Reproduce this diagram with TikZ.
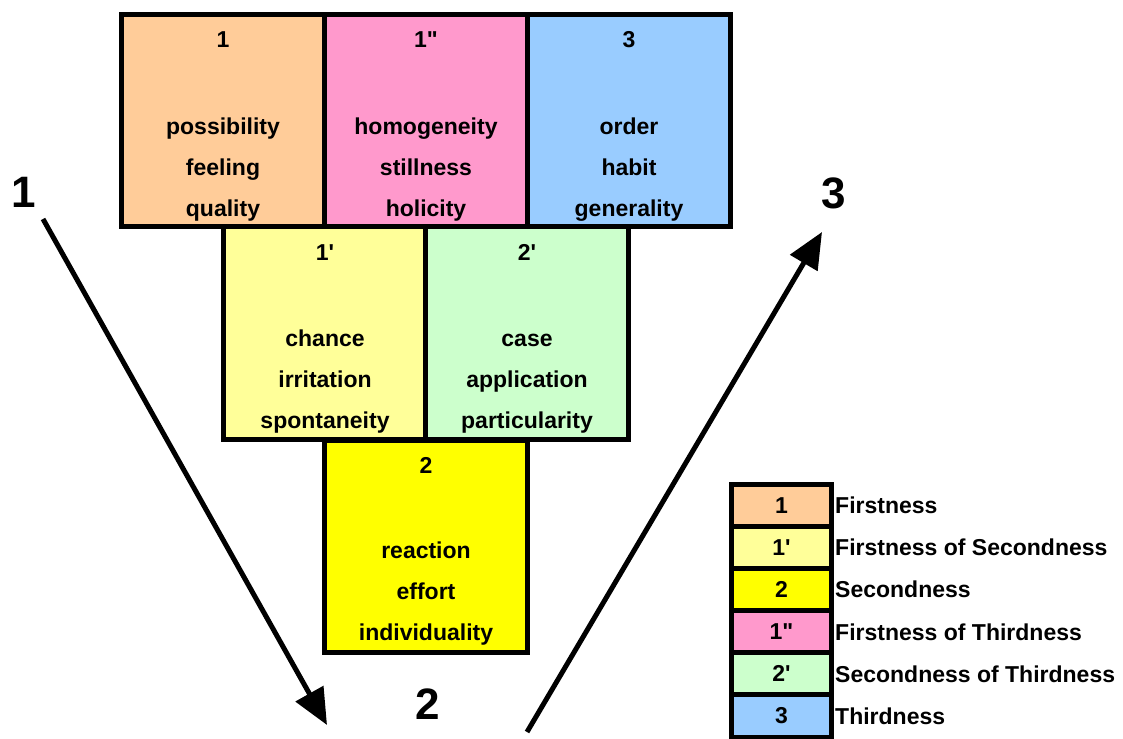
\documentclass[tikz,border=0pt]{standalone}
\usepackage{fontspec}
\setmainfont{Liberation Sans}
\usetikzlibrary{arrows.meta,positioning}
\definecolor{peach}{HTML}{FFCC99}
\definecolor{rose}{HTML}{FF99CC}
\definecolor{sky}{HTML}{99CCFF}
\definecolor{paleyellow}{HTML}{FFFF99}
\definecolor{palegreen}{HTML}{CCFFCC}
\definecolor{brightyellow}{HTML}{FFFF00}

\begin{document}
\begin{tikzpicture}
     [
     x=1pt, y=-1pt,
     cellbox/.style={rectangle, draw=black, line width=5pt, minimum width=203pt, minimum height=212.5pt, inner sep=0pt},
     numtext/.style={font=\fontsize{23}{27}\selectfont\bfseries, text height=16.5pt, text depth=0pt, inner sep=0pt},
     wordtext/.style={align=center, font=\fontsize{23}{41}\selectfont\bfseries, text height=17pt, text depth=5pt, inner sep=0pt},
     keybox/.style={rectangle, draw=black, line width=5pt, minimum width=100pt, minimum height=42.1pt, inner sep=0pt, font=\fontsize{23}{27}\selectfont\bfseries},
     keytext/.style={anchor=west, inner sep=1pt, font=\fontsize{23}{27}\selectfont\bfseries},
     bignum/.style={font=\fontsize{44}{48}\selectfont\bfseries, text height=32pt, text depth=0pt, inner sep=0pt},
     bigarrow/.style={line width=5pt, -{Triangle[length=36pt,width=31pt]}},
     ]
 \useasboundingbox (0,0) rectangle (1123,738);
 % the six cells
 \node at (223,120.5) [cellbox, fill=peach]        (c1)   {};
 \node at (426,120.5) [cellbox, fill=rose]         (c1pp) {};
 \node at (629,120.5) [cellbox, fill=sky]          (c3)   {};
 \node at (325,333)   [cellbox, fill=paleyellow]   (c1p)  {};
 \node at (527,333)   [cellbox, fill=palegreen]    (c2p)  {};
 \node at (426,546.5) [cellbox, fill=brightyellow] (c2)   {};
 % cell texts
 \node at (223,39.5) [numtext] (t1)   {1};
 \node at (426,39.5) [numtext] (t1pp) {1\textquotedbl};
 \node at (629,39.5) [numtext] (t3)   {3};
 \node at (325,252.5) [numtext] (t1p) {1\textquotesingle};
 \node at (527,252.5) [numtext] (t2p) {2\textquotesingle};
 \node at (426,465) [numtext] (t2)    {2};
 \node at (223,210.5) [wordtext] (w1)   {possibility\\feeling\\quality};
 \node at (426,210.5) [wordtext] (w1pp) {homogeneity\\stillness\\holicity};
 \node at (629,210.5) [wordtext] (w3)   {order\\habit\\generality};
 \node at (325,422.5) [wordtext] (w1p)  {chance\\irritation\\spontaneity};
 \node at (527,422.5) [wordtext] (w2p)  {case\\application\\particularity};
 \node at (426,634.5) [wordtext] (w2) {reaction\\effort\\individuality};
 % legend
 \node at (781.5,505.5) [keybox, fill=peach]        (k1)   {1};
 \node at (781.5,547.6) [keybox, fill=paleyellow]   (k1p)  {1\textquotesingle};
 \node at (781.5,589.7) [keybox, fill=brightyellow] (k2)   {2};
 \node at (781.5,631.8) [keybox, fill=rose]         (k1pp) {1\textquotedbl};
 \node at (781.5,673.9) [keybox, fill=palegreen]    (k2p)  {2\textquotesingle};
 \node at (781.5,716.0) [keybox, fill=sky]          (k3)   {3};
 \node [keytext, right=0pt of k1]   (l1)   {Firstness};
 \node [keytext, right=0pt of k1p]  (l1p)  {Firstness of Secondness};
 \node [keytext, right=0pt of k2]   (l2)   {Secondness};
 \node [keytext, right=0pt of k1pp] (l1pp) {Firstness of Thirdness};
 \node [keytext, right=0pt of k2p]  (l2p)  {Secondness of Thirdness};
 \node [keytext, right=0pt of k3]   (l3)   {Thirdness};
 % the path 1 -> 2 -> 3
 \node at (24,191)    [bignum] (n1) {1};
 \node at (428,703)   [bignum] (n2) {2};
 \node at (834,192.5) [bignum] (n3) {3};
 \coordinate (a1s) at (43,219);
 \coordinate (a1e) at (327,725);
 \coordinate (a3s) at (527,732);
 \coordinate (a3e) at (822,232);
 \draw [bigarrow] (a1s) -- (a1e);
 \draw [bigarrow] (a3s) -- (a3e);
\end{tikzpicture}
\end{document}
